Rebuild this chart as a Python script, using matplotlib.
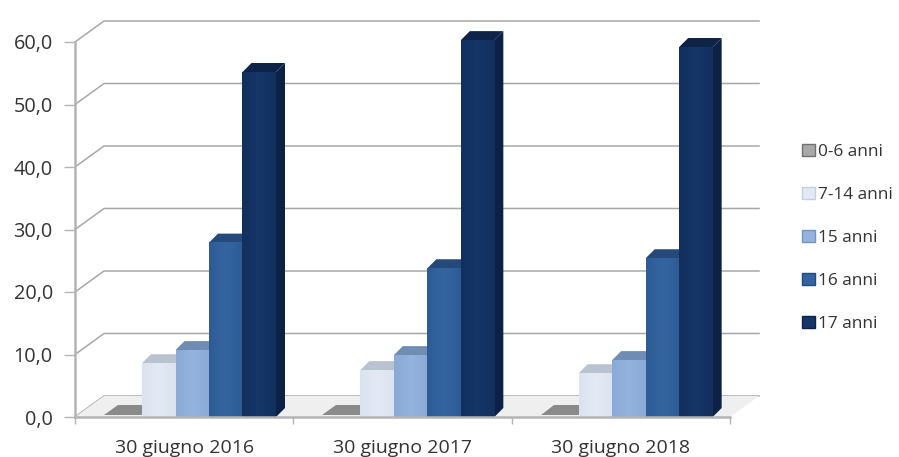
import numpy as np
import matplotlib
matplotlib.use('Agg')
import matplotlib.pyplot as plt
from matplotlib.colors import LinearSegmentedColormap
from matplotlib.patches import Polygon, Patch

# --- Data ---
dates = ["30 giugno 2016", "30 giugno 2017", "30 giugno 2018"]
ages = ["0-6 anni", "7-14 anni", "15 anni", "16 anni", "17 anni"]
v_0_6 = [0.2, 0.2, 0.1]
v_7_14 = [8.6, 7.5, 7.0]
v_15 = [10.7, 9.9, 9.1]
v_16 = [27.9, 23.8, 25.4]
v_17 = [55.2, 60.3, 59.2]
series = [v_0_6, v_7_14, v_15, v_16, v_17]
y_ticks = [0, 10, 20, 30, 40, 50, 60]

# front edge, front centre, side, top
colors = [
    ("#8a8a8a", "#a8a8a8", "#707070", "#8f8f8f"),
    ("#dbe3f0", "#e4eaf4", "#c5cfde", "#b9c2cf"),
    ("#8aa9d6", "#95b3dd", "#7494c2", "#6f8cb5"),
    ("#2e5b94", "#3565a0", "#234a7c", "#25497a"),
    ("#12305e", "#163668", "#0c2145", "#0d2448"),
]

W, H = 899, 457
AX_L, AX_R, AX_TOP, AX_BOT = 75, 730, 42, 417
PX_X = (AX_R - AX_L) / 3.0
PX_Y = (AX_BOT - AX_TOP) / 60.0
WALL_X, WALL_Y = 29 / PX_X, 21 / PX_Y   # depth of chart box
DEPTH_X, DEPTH_Y = 9 / PX_X, 9 / PX_Y   # depth of one bar
BAR_W = 33.5 / PX_X
BAR_START = 33.5 / PX_X
GREY = "#b4b4b4"

plt.rcParams['font.family'] = ['Open Sans', 'DejaVu Sans']

fig = plt.figure(figsize=(W / 100, H / 100), dpi=100)
ax = fig.add_axes([AX_L / W, 1 - AX_BOT / H, (AX_R - AX_L) / W, (AX_BOT - AX_TOP) / H])


def poly(pts, color, z, lw=0):
    ax.add_patch(Polygon(pts, closed=True, facecolor=color, edgecolor=color,
                         linewidth=lw, zorder=z, clip_on=False))


# back grid lines and slanted side lines
for t in y_ticks:
    ax.plot([0, WALL_X, 3 + WALL_X], [t, t + WALL_Y, t + WALL_Y], color="#a8a8a8",
            lw=1.1, zorder=1, clip_on=False)

# floor
poly([(0, 0), (3, 0), (3 + WALL_X, WALL_Y), (WALL_X, WALL_Y)], "#efefef", 2)

# bars
for g in range(3):
    for s, vals in enumerate(series):
        v = vals[g]
        x0 = g + BAR_START + s * BAR_W
        x1 = x0 + BAR_W
        edge, mid, side, top = colors[s]
        z = 3 + s * 0.1
        if s == 0:
            # near-zero bar only shows as a flat shadow on the floor
            poly([(x0 - 0.02, 0.4), (x1, 0.4), (x1, 2.0), (x0 + DEPTH_X, 2.0)], edge, z)
            continue
        poly([(x1, 0), (x1 + DEPTH_X, DEPTH_Y), (x1 + DEPTH_X, v + DEPTH_Y), (x1, v)], side, z)
        poly([(x0, v), (x1, v), (x1 + DEPTH_X, v + DEPTH_Y), (x0 + DEPTH_X, v + DEPTH_Y)], top, z)
        cmap = LinearSegmentedColormap.from_list("b", [edge, mid, edge])
        ax.imshow(np.linspace(0, 1, 32)[None, :], cmap=cmap, extent=(x0, x1, 0, v),
                  aspect='auto', zorder=z + 0.01, clip_on=False)

ax.set_xlim(0, 3)
ax.set_ylim(0, 60)
ax.set_facecolor("none")
for name in ["top", "right"]:
    ax.spines[name].set_visible(False)
for name in ["left", "bottom"]:
    ax.spines[name].set_color(GREY)
    ax.spines[name].set_linewidth(1.8)
    ax.spines[name].set_zorder(6)

ax.set_yticks(y_ticks)
ax.set_yticklabels([f"{t},0" for t in y_ticks], fontsize=14.3, color="#333333")
ax.set_xticks([0, 1, 2, 3])
ax.set_xticklabels([])
ax.set_xticks([0.5, 1.5, 2.5], minor=True)
ax.set_xticklabels(dates, minor=True, fontsize=14, color="#333333")
ax.tick_params(axis='x', which='minor', length=0, pad=16)
ax.tick_params(axis='x', which='major', length=5, color=GREY, width=1)
ax.tick_params(axis='y', length=8, color=GREY, width=1, pad=8)

handles = [Patch(facecolor=c[1], edgecolor=c[2], label=a) for a, c in zip(ages, colors)]
leg = fig.legend(handles=handles, loc='center left', bbox_to_anchor=(802 / W, 1 - 238 / H),
                 frameon=False, fontsize=12.4, labelspacing=1.55, handlelength=0.75,
                 handleheight=0.75, handletextpad=0.2, borderpad=0, borderaxespad=0,
                 labelcolor="#333333")

fig.savefig("out.png", dpi=100)
